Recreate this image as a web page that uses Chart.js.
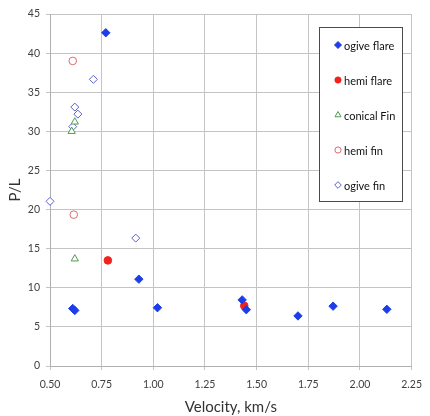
<!DOCTYPE html>
<html>
<head>
<meta charset="utf-8">
<script src="https://cdn.jsdelivr.net/npm/chart.js@4/dist/chart.umd.min.js"></script>
<style>
  html, body { margin: 0; padding: 0; background: #fff; }
  #wrap { width: 430px; height: 416px; }
</style>
</head>
<body>
<div id="wrap"><canvas id="chart" width="430" height="416"></canvas></div>
<script>
// values (velocity km/s, P/L)
const ogiveFlareX = [0.77, 0.61, 0.62, 0.93, 1.02, 1.43, 1.45, 1.70, 1.87, 2.13];
const ogiveFlareY = [42.6, 7.35, 7.1, 11.1, 7.45, 8.45, 7.2, 6.4, 7.65, 7.25];
const hemiFlareX = [0.78, 1.44];
const hemiFlareY = [13.5, 7.7];
const conicalFinX = [0.62, 0.605, 0.62];
const conicalFinY = [13.7, 30.0, 31.2];
const hemiFinX = [0.61, 0.615];
const hemiFinY = [39.0, 19.35];
const ogiveFinX = [0.50, 0.71, 0.62, 0.635, 0.61, 0.915];
const ogiveFinY = [21.05, 36.65, 33.1, 32.2, 30.6, 16.35];

const seriesNames = ["ogive flare", "hemi flare", "conical Fin", "hemi fin", "ogive fin"];
const xTitle = "Velocity, km/s";
const yTitle = "P/L";

const FONT = "Lato, 'Open Sans', sans-serif";

function pts(xs, ys) {
    return xs.map((x, i) => ({ x: x, y: ys[i] }));
}

const datasets = [
    { label: seriesNames[0], data: pts(ogiveFlareX, ogiveFlareY), pointStyle: 'rectRot', pointRadius: 4.2,
      backgroundColor: '#1c3ee8', borderColor: '#1c3ee8', borderWidth: 1, clip: false },
    { label: seriesNames[1], data: pts(hemiFlareX, hemiFlareY), pointStyle: 'circle', pointRadius: 3.8,
      backgroundColor: '#f2231d', borderColor: '#f2231d', borderWidth: 1, clip: false },
    { label: seriesNames[2], data: pts(conicalFinX, conicalFinY), pointStyle: 'triangle', pointRadius: 4.2,
      backgroundColor: '#ffffff', borderColor: '#4f9a4f', borderWidth: 1, clip: false },
    { label: seriesNames[3], data: pts(hemiFinX, hemiFinY), pointStyle: 'circle', pointRadius: 3.8,
      backgroundColor: '#ffffff', borderColor: '#dd6a6e', borderWidth: 1, clip: false },
    { label: seriesNames[4], data: pts(ogiveFinX, ogiveFinY), pointStyle: 'rectRot', pointRadius: 4,
      backgroundColor: '#ffffff', borderColor: '#5f5fd2', borderWidth: 1, clip: false }
];

// boxed legend drawn inside the plot, like the original
const boxLegend = {
    id: 'boxLegend',
    afterDraw(chart) {
        const ctx = chart.ctx;
        const bx = 319.5, by = 27.5, bw = 83, bh = 174;
        ctx.save();
        ctx.fillStyle = '#ffffff';
        ctx.fillRect(bx, by, bw, bh);
        ctx.strokeStyle = '#4a4a4a';
        ctx.lineWidth = 1;
        ctx.strokeRect(bx, by, bw, bh);
        ctx.font = "11px " + FONT;
        ctx.textBaseline = 'middle';
        chart.data.datasets.forEach((ds, i) => {
            const y = 45 + i * 35;
            ctx.fillStyle = ds.backgroundColor;
            ctx.strokeStyle = ds.borderColor;
            ctx.lineWidth = ds.borderWidth;
            Chart.helpers.drawPoint(ctx, { pointStyle: ds.pointStyle, radius: ds.pointRadius - 0.7, rotation: 0, borderWidth: ds.borderWidth }, 338, y);
            ctx.fillStyle = '#111';
            ctx.fillText(ds.label, 344, y + 1);
        });
        ctx.restore();
    }
};

const ctx = document.getElementById('chart').getContext('2d');
new Chart(ctx, {
    type: 'scatter',
    data: { datasets: datasets },
    options: {
        responsive: false,
        animation: false,
        layout: { padding: { top: 14, right: 10, left: 2, bottom: 0 } },
        plugins: { legend: { display: false }, tooltip: { enabled: false } },
        scales: {
            x: {
                type: 'linear', min: 0.5, max: 2.25,
                ticks: { stepSize: 0.25, padding: 8, color: '#404040', font: { family: FONT, size: 10.5 },
                         callback: v => v.toFixed(2) },
                grid: { color: '#c4c4c4', tickLength: 4, drawTicks: true },
                border: { color: '#b0b0b0' },
                title: { display: true, text: xTitle, color: '#333', font: { family: FONT, size: 15 }, padding: { top: 8, bottom: 0 } },
                afterFit: s => { s.height = 50; }
            },
            y: {
                type: 'linear', min: 0, max: 45,
                ticks: { stepSize: 5, padding: 6, color: '#404040', font: { family: FONT, size: 10.5 } },
                grid: { color: '#c4c4c4', tickLength: 4, drawTicks: true },
                border: { color: '#b0b0b0' },
                title: { display: true, text: yTitle, color: '#333', font: { family: FONT, size: 15 }, padding: { top: 4, bottom: 6 } },
                afterFit: s => { s.width = 48; }
            }
        }
    },
    plugins: [boxLegend]
});
</script>
</body>
</html>
